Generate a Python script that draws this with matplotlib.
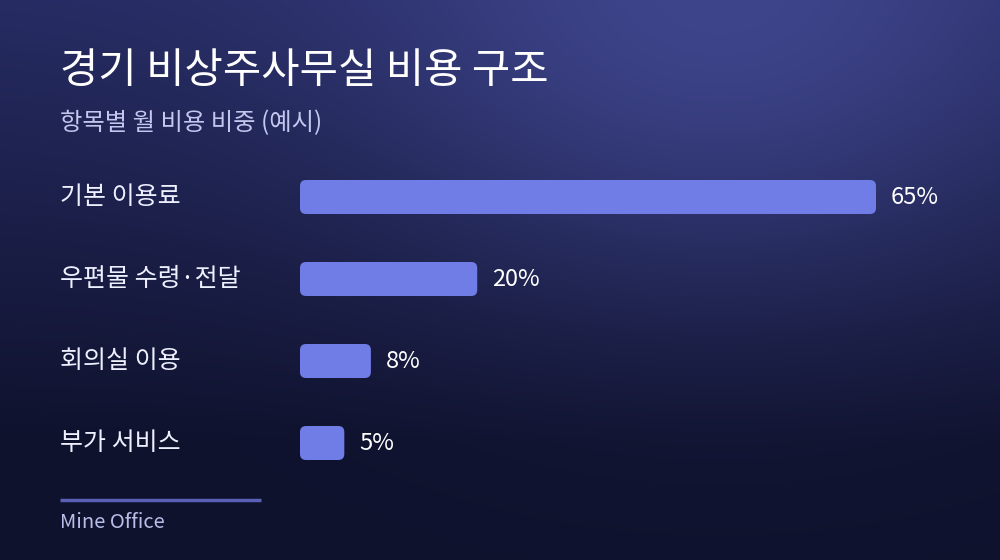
import numpy as np
import matplotlib
matplotlib.use("Agg")
import matplotlib.pyplot as plt
from matplotlib.patches import FancyBboxPatch

plt.rcParams['font.family'] = ['Noto Sans CJK KR', 'DejaVu Sans']

# ---- data ----
title = "경기 비상주사무실 비용 구조"
subtitle = "항목별 월 비용 비중 (예시)"
categories = ["기본 이용료", "우편물 수령·전달", "회의실 이용", "부가 서비스"]
values = [65, 20, 8, 5]
value_labels = ["65%", "20%", "8%", "5%"]
source = "Mine Office"

W, H = 1000, 560
fig = plt.figure(figsize=(W / 100, H / 100), dpi=100)

# ---- background gradient ----
bg = fig.add_axes([0, 0, 1, 1], zorder=-10)
yy, xx = np.mgrid[0:H, 0:W].astype(float)
top = np.array([0x26, 0x2b, 0x62]) / 255
bot = np.array([0x0f, 0x12, 0x2d]) / 255
t = np.clip(yy / 440, 0, 1)[..., None]
base = top * (1 - t) + bot * t
glow_c = np.array([0x3e, 0x45, 0x8b]) / 255
d = np.sqrt(((xx - 720) / 1.3) ** 2 + (yy + 20) ** 2)
g = np.exp(-(d / 280) ** 2)[..., None]
img = base * (1 - g) + glow_c * g
bg.imshow(img, extent=[0, W, H, 0], aspect='auto', interpolation='bilinear')
bg.set_xlim(0, W)
bg.set_ylim(H, 0)
bg.axis('off')

# ---- titles ----
fig.text(60 / W, 1 - 71 / H, title, color='white', fontsize=30, va='center', ha='left')
fig.text(60 / W, 1 - 123 / H, subtitle, color='#c3c7ee', fontsize=17.5, va='center', ha='left')

# ---- bars ----
ax_l, ax_r = 300, 876
ax_t, ax_b = 156, 484
ax = fig.add_axes([ax_l / W, 1 - ax_b / H, (ax_r - ax_l) / W, (ax_b - ax_t) / H])
ax.set_xlim(0, 65)
ax.set_ylim(len(categories) - 0.5, -0.5)
ax.axis('off')
ax.patch.set_alpha(0)

px_x = 65 / (ax_r - ax_l)        # x units per pixel
px_y = len(categories) / (ax_b - ax_t)  # y units per pixel
bar_h = 34 * px_y
radius_px = 6
bar_color = '#717de6'
for i, (v, lab) in enumerate(zip(values, value_labels)):
    p = FancyBboxPatch((0, i - bar_h / 2), v, bar_h,
                       boxstyle=f"round,pad=0,rounding_size={radius_px * px_x}",
                       mutation_aspect=px_y / px_x,
                       facecolor=bar_color, edgecolor='none')
    ax.add_patch(p)
    ax.text(v + 15 * px_x, i, lab, color='white', fontsize=17,
            va='center', ha='left', clip_on=False)
    fig.text(60 / W, 1 - (197 + 82 * i) / H, categories[i], color='#eef0ff',
             fontsize=18, va='center', ha='left')

# ---- footer ----
fig.add_artist(plt.Line2D([60 / W, 261 / W], [1 - 500 / H, 1 - 500 / H],
                          color='#5a60b4', lw=2.5, solid_capstyle='butt'))
fig.text(60 / W, 1 - 522 / H, source, color='#b9bee9', fontsize=14.5,
         va='center', ha='left')

fig.savefig('out.png', dpi=100)
